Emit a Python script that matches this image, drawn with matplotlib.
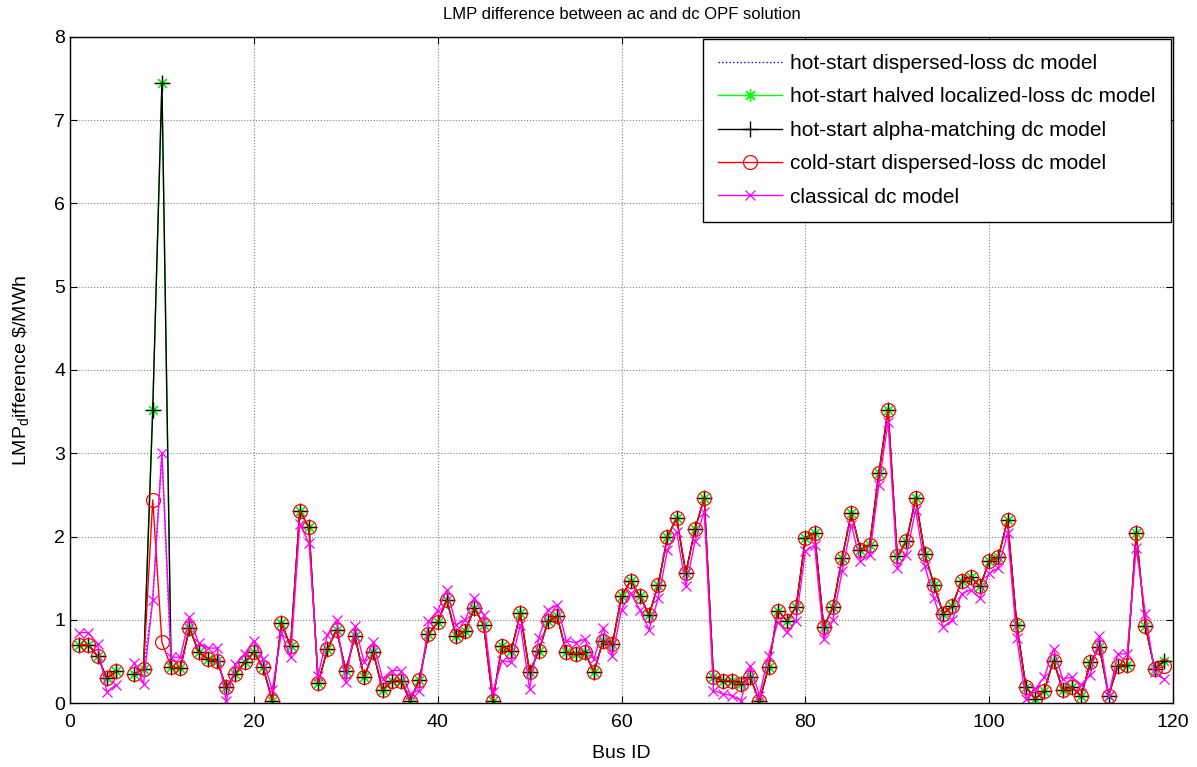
import numpy as np
import matplotlib
matplotlib.use("Agg")
import matplotlib.pyplot as plt

plt.rcParams['font.family'] = ['Liberation Sans', 'DejaVu Sans']
plt.rcParams['mathtext.fontset'] = 'custom'
plt.rcParams['mathtext.rm'] = 'Liberation Sans'

nan = np.nan
bus_id = list(range(1, 120))

cold_dispersed = [
    0.70, 0.70, 0.56, 0.30, 0.38, nan, 0.35, 0.41, 2.44, 0.73,
    0.43, 0.42, 0.90, 0.61, 0.53, 0.50, 0.19, 0.35, 0.49, 0.61,
    0.43, 0.03, 0.96, 0.685, 2.31, 2.11, 0.24, 0.645, 0.88, 0.39,
    0.80, 0.31, 0.61, 0.155, 0.27, 0.27, 0.03, 0.275, 0.83, 0.97,
    1.24, 0.80, 0.865, 1.14, 0.94, 0.03, 0.685, 0.625, 1.08, 0.37,
    0.62, 0.98, 1.04, 0.61, 0.59, 0.61, 0.375, 0.745, 0.705, 1.28,
    1.47, 1.28, 1.06, 1.42, 2.00, 2.22, 1.56, 2.09, 2.46, 0.31,
    0.27, 0.27, 0.23, 0.31, 0.02, 0.43, 1.11, 0.99, 1.15, 1.98,
    2.04, 0.91, 1.15, 1.74, 2.28, 1.84, 1.90, 2.76, 3.52, 1.76,
    1.94, 2.46, 1.79, 1.42, 1.07, 1.17, 1.47, 1.51, 1.40, 1.70,
    1.75, 2.20, 0.94, 0.19, 0.05, 0.15, 0.51, 0.155, 0.19, 0.08,
    0.49, 0.67, 0.09, 0.45, 0.46, 2.04, 0.92, 0.41, 0.44,
]

hot_halved = [
    0.70, 0.70, 0.56, 0.30, 0.38, nan, 0.35, 0.41, 3.52, 7.45,
    0.43, 0.42, 0.90, 0.61, 0.53, 0.50, 0.19, 0.35, 0.49, 0.61,
    0.43, 0.03, 0.96, 0.685, 2.31, 2.11, 0.24, 0.645, 0.88, 0.39,
    0.80, 0.31, 0.61, 0.155, 0.27, 0.27, 0.03, 0.275, 0.83, 0.97,
    1.24, 0.80, 0.865, 1.14, 0.94, 0.03, 0.685, 0.625, 1.08, 0.37,
    0.62, 0.98, 1.04, 0.61, 0.59, 0.61, 0.375, 0.745, 0.705, 1.28,
    1.47, 1.28, 1.06, 1.42, 2.00, 2.22, 1.56, 2.09, 2.46, 0.31,
    0.27, 0.27, 0.23, 0.31, 0.02, 0.43, 1.11, 0.99, 1.15, 1.98,
    2.04, 0.91, 1.15, 1.74, 2.28, 1.84, 1.90, 2.76, 3.52, 1.76,
    1.94, 2.46, 1.79, 1.42, 1.07, 1.17, 1.47, 1.51, 1.40, 1.70,
    1.75, 2.20, 0.94, 0.19, 0.05, 0.15, 0.51, 0.155, 0.19, 0.08,
    0.49, 0.67, 0.09, 0.45, 0.46, 2.04, 0.92, 0.41, 0.50,
]

hot_alpha = list(hot_halved)

hot_dispersed = [
    0.70, 0.70, 0.56, 0.30, 0.38, nan, 0.35, 0.41, 1.24, 3.00,
    0.43, 0.42, 0.90, 0.61, 0.53, 0.50, 0.19, 0.35, 0.49, 0.61,
    0.43, 0.03, 0.96, 0.685, 2.31, 2.11, 0.24, 0.645, 0.88, 0.39,
    0.80, 0.31, 0.61, 0.155, 0.27, 0.27, 0.03, 0.275, 0.83, 0.97,
    1.24, 0.80, 0.865, 1.14, 0.94, 0.03, 0.685, 0.625, 1.08, 0.37,
    0.62, 0.98, 1.04, 0.61, 0.59, 0.61, 0.375, 0.745, 0.705, 1.28,
    1.47, 1.28, 1.06, 1.42, 2.00, 2.22, 1.56, 2.09, 2.46, 0.31,
    0.27, 0.27, 0.23, 0.31, 0.02, 0.43, 1.11, 0.99, 1.15, 1.98,
    2.04, 0.91, 1.15, 1.74, 2.28, 1.84, 1.90, 2.76, 3.52, 1.76,
    1.94, 2.46, 1.79, 1.42, 1.07, 1.17, 1.47, 1.51, 1.40, 1.70,
    1.75, 2.20, 0.94, 0.19, 0.05, 0.15, 0.51, 0.155, 0.19, 0.08,
    0.49, 0.67, 0.09, 0.45, 0.46, 2.04, 0.92, 0.41, 0.44,
]

classical = [
    0.845, 0.845, 0.71, 0.13, 0.22, nan, 0.48, 0.23, 1.24, 3.00,
    0.55, 0.55, 1.03, 0.72, 0.66, 0.66, 0.02, 0.47, 0.59, 0.75,
    0.53, 0.155, 0.84, 0.55, 2.15, 1.92, 0.33, 0.82, 1.00, 0.25,
    0.92, 0.49, 0.73, 0.29, 0.39, 0.39, 0.11, 0.15, 0.98, 1.11,
    1.36, 0.94, 1.00, 1.26, 1.06, 0.13, 0.51, 0.49, 0.94, 0.17,
    0.78, 1.12, 1.18, 0.745, 0.725, 0.765, 0.53, 0.90, 0.565, 1.12,
    1.32, 1.12, 0.88, 1.26, 1.84, 2.06, 1.40, 1.94, 2.30, 0.15,
    0.11, 0.09, 0.03, 0.45, 0.09, 0.57, 0.97, 0.85, 0.99, 1.82,
    1.90, 0.77, 1.00, 1.58, 2.14, 1.70, 1.78, 2.62, 3.38, 1.62,
    1.78, 2.32, 1.64, 1.26, 0.91, 1.00, 1.31, 1.36, 1.26, 1.56,
    1.62, 2.04, 0.78, 0.05, 0.17, 0.31, 0.65, 0.29, 0.31, 0.22,
    0.34, 0.80, 0.09, 0.59, 0.59, 1.86, 1.07, 0.37, 0.29,
]

labels = [
    'hot-start dispersed-loss dc model',
    'hot-start halved localized-loss dc model',
    'hot-start alpha-matching dc model',
    'cold-start dispersed-loss dc model',
    'classical dc model',
]

fig = plt.figure(figsize=(11.97, 7.67), dpi=100)
ax = fig.add_axes([70/1197, 64/767, 1103/1197, 666/767])

lw = 1.0
ax.plot(bus_id, hot_dispersed, color='#0000ff', linestyle=':', lw=lw, label=labels[0])
ax.plot(bus_id, hot_halved, color='#00ff00', marker=(8, 2, 0), ms=9, mew=0.9, lw=lw, label=labels[1])
ax.plot(bus_id, hot_alpha, color='black', marker='+', ms=11, mew=1.0, lw=lw, label=labels[2])
ax.plot(bus_id, cold_dispersed, color='#ff0000', marker='o', ms=10, mfc='none', mew=0.9, lw=lw, label=labels[3])
ax.plot(bus_id, classical, color='#ff00ff', marker='x', ms=7, mew=0.9, lw=lw, label=labels[4])

ax.set_xlim(0, 120)
ax.set_ylim(0, 8)
ax.set_xticks(range(0, 121, 20))
ax.set_yticks(range(0, 9))
ax.tick_params(direction='in', top=True, right=True, labelsize=14, length=5, width=0.8)
ax.tick_params(axis='x', pad=8)
ax.grid(True, color='#808080', linestyle=':', lw=0.8)
for s in ax.spines.values():
    s.set_linewidth(1.0)

ax.set_xlabel('Bus ID', fontsize=14, labelpad=10)
ax.set_ylabel(r'LMP$_\mathrm{d}$ifference \$/MWh', fontsize=14, labelpad=16)
ax.set_title('LMP difference between ac and dc OPF solution', fontsize=12, pad=13)

leg = ax.legend(loc='upper right', fontsize=15, fancybox=False, framealpha=1,
                edgecolor='black', borderaxespad=0.1, handlelength=3.1,
                handletextpad=0.4, labelspacing=0.69, borderpad=0.72)
leg.get_frame().set_linewidth(1.0)

fig.savefig('out.png', dpi=100)
